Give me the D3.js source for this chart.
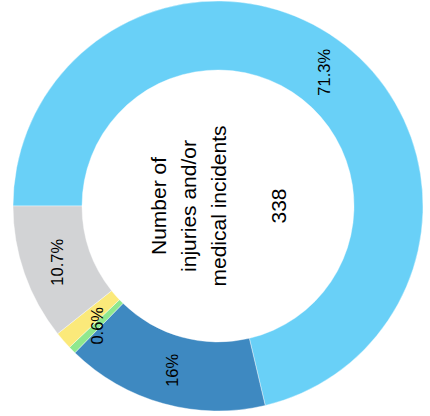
<!DOCTYPE html>
<html>
<head>
<meta charset="utf-8">
<script src="https://cdn.jsdelivr.net/npm/d3@7"></script>
<style>
  body { margin: 0; background: #fff; }
  svg { display: block; }
  text { font-family: "Liberation Sans", Arial, sans-serif; fill: #000; }
</style>
</head>
<body>
<script>
"use strict"

/* dati della ciambella */
const categorie = ["A", "B", "C", "D", "E"];
const valori = [71.3, 16, 0.6, 1.4, 10.7];
const etichette = ["71.3%", "16%", "0.6%", "", "10.7%"];
const colori = ["#69d0f7", "#3e89c1", "#8fe88e", "#fbe97a", "#d2d3d5"];
const righeCentro = ["Number of", "injuries and/or", "medical incidents", "", "338"];

const grafico = { larghezza: 430, altezza: 416, cx: 218, cy: 206, rEsterno: 205, rInterno: 136 };

const svg = d3.select("body")
    .append("svg")
    .attr("width", grafico.larghezza)
    .attr("height", grafico.altezza);

/* tutto il grafico è ruotato di -90 gradi */
const g = svg.append("g")
    .attr("transform", "translate(" + grafico.cx + "," + grafico.cy + ") rotate(-90)");

const torta = d3.pie().sort(null).value(function (d) { return d; });
const arco = d3.arc().innerRadius(grafico.rInterno).outerRadius(grafico.rEsterno);
const archi = torta(valori);

g.selectAll("path")
    .data(archi)
    .enter()
    .append("path")
    .attr("d", arco)
    .attr("fill", function (d, i) { return colori[i]; })
    .attr("stroke", "#fff")
    .attr("stroke-width", 0.4);

/* etichette disegnate dopo tutte le fette, così non vengono coperte */
g.selectAll("text.etichetta")
    .data(archi)
    .enter()
    .append("text")
    .attr("class", "etichetta")
    .attr("transform", function (d) { return "translate(" + arco.centroid(d) + ")"; })
    .attr("text-anchor", "middle")
    .attr("dominant-baseline", "central")
    .attr("font-size", 16.5)
    .text(function (d, i) { return etichette[i]; });

/* testo centrale */
const passo = 30;
g.append("text")
    .attr("text-anchor", "middle")
    .attr("font-size", 21)
    .selectAll("tspan")
    .data(righeCentro)
    .enter()
    .append("tspan")
    .attr("x", 0)
    .attr("y", function (d, i) { return (i - (righeCentro.length - 1) / 2) * passo + 7.5; })
    .text(function (d) { return d; });
</script>
</body>
</html>
